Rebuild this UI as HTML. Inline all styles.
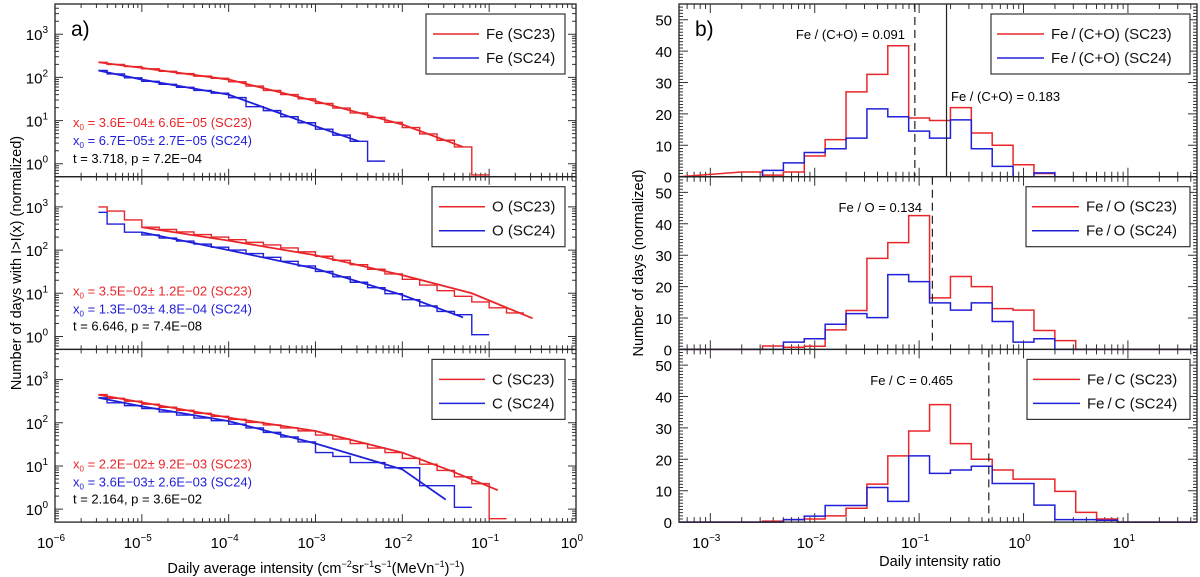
<!DOCTYPE html>
<html><head><meta charset="utf-8"><style>
html,body{margin:0;padding:0;background:#fff}
svg{display:block;font-family:"Liberation Sans",sans-serif}
</style></head><body>
<svg id="fig" width="1200" height="577" viewBox="0 0 1200 577" xmlns="http://www.w3.org/2000/svg">
<g id="left"></g>
<g id="right"></g>
</svg>
<script>
// ===== Panel a data (log10 x bin edges start at -5.6, step 0.2, clipped at -5.5) =====
const aBinStart = -5.6, aBinStep = 0.2, aClip = -5.5;
const feRed  = [224,200,178,158,138,123,107,95,79,63,50,40,32,25,19.5,15,11.8,9.1,6.9,4.9,3.5,2.45,0.55];
const feBlue = [145,120,98,81,69,59,50,43,34,21,17,12.3,8.9,6.3,4.6,3.3,1.15];
const oRed   = [1000,800,500,340,300,263,229,200,174,151,132,112,91,72,58,46,36,28,21,15.5,11.5,8.5,6.3,4.6,3.5];
const oBlue  = [750,400,260,224,190,162,138,117,100,83,68,55,43,32,24,18,13.5,9.8,7.1,5.1,3.8,3.2,1.1];
const cRed   = [450,370,316,270,229,195,166,141,120,102,89,76,65,52,42,33,26,20.4,15,11,7.9,5.6,3.9,0.6];
const cBlue  = [380,290,250,214,178,151,129,112,93,76,60,47,36,20.4,16.6,12,12,9.1,9.1,3.5,3.5,1.1];
// fit curves: [log10 x, log10 y]
const feRedFitX=[-5.5,-5,-4,-3,-2,-1.3], feRedFitY=[2.35,2.22,1.95,1.45,0.91,0.39];
const feBlueFitX=[-5.5,-5,-4,-3,-2.5], feBlueFitY=[2.16,1.95,1.6,0.87,0.52];
const oRedFitX=[-5,-4,-3,-2,-1.2,-0.5], oRedFitY=[2.53,2.22,1.88,1.42,1.0,0.42];
const oBlueFitX=[-5,-4,-3,-2,-1.3], oBlueFitY=[2.41,2.0,1.57,0.96,0.44];
const cRedFitX=[-5.5,-4,-3,-2,-1.43,-0.9], cRedFitY=[2.65,2.12,1.81,1.31,0.88,0.44];
const cBlueFitX=[-5.5,-5,-4,-3,-2,-1.5], cBlueFitY=[2.58,2.38,2.04,1.52,0.92,0.22];
const aLegends=[["Fe (SC23)","Fe (SC24)"],["O (SC23)","O (SC24)"],["C (SC23)","C (SC24)"]];
const aNotes=[["3.6E\u221204\u00b1 6.6E\u221205 (SC23)","6.7E\u221205\u00b1 2.7E\u221205 (SC24)","t = 3.718, p = 7.2E\u221204"],
 ["3.5E\u221202\u00b1 1.2E\u221202 (SC23)","1.3E\u221203\u00b1 4.8E\u221204 (SC24)","t = 6.646, p = 7.4E\u221208"],
 ["2.2E\u221202\u00b1 9.2E\u221203 (SC23)","3.6E\u221203\u00b1 2.6E\u221203 (SC24)","t = 2.164, p = 3.6E\u221202"]];
const aXTicks=[-6,-5,-4,-3,-2,-1,0];
const aYTicks=[0,1,2,3];

// ===== Panel b data (log10 ratio bin edges start at -2.7, step 0.2) =====
const bBinStart=-2.7, bBinStep=0.2;
const coRed =[1.5,0.5,1.5,6.6,11.8,27,32.6,41.7,18.7,17.9,22,13.9,10,3.8,1];
const coBlue=[0,2,4.4,7.7,8.9,12.3,21.6,19.1,14.5,12.3,18.1,8.9,3.3,0,1.2];
const foRed =[0,1.1,0.7,1,6.2,12.4,29,34,42.6,16.4,23.2,20,13,12.5,6,2.8];
const foBlue=[0,0,2.3,3.4,8,11.4,10.1,23.8,21.6,14.8,12.5,14.8,8.9,2.3,3.4];
const fcRed =[0,0.3,0.8,1,2,4.4,12.1,21.1,29,37.4,25,20,16.6,13.7,13.7,9.8,3.1,1];
const fcBlue=[0,0,0.8,1.9,5.3,5.3,11,6.6,21.1,15.5,16.6,17.8,12.3,12.3,5.4,0.8,0.8,0.6];
const bLegends=[["Fe\u2009/\u2009(C+O) (SC23)","Fe\u2009/\u2009(C+O) (SC24)"],["Fe\u2009/\u2009O (SC23)","Fe\u2009/\u2009O (SC24)"],["Fe\u2009/\u2009C (SC23)","Fe\u2009/\u2009C (SC24)"]];
const bXTicks=[-3,-2,-1,0,1];
const bYTicks=[0,10,20,30,40,50];

const NS="http://www.w3.org/2000/svg";
const RED="#e8262a", BLUE="#2020d8";
function mk(tag,parent,attrs){const e=document.createElementNS(NS,tag);for(const k in attrs)e.setAttribute(k,attrs[k]);parent.appendChild(e);return e;}
const L=document.getElementById('left'), R=document.getElementById('right');
const tops=[4,176.7,349.4], PH=172.7;

// scales
const aX=lx=>55+(lx+6)*86.83;
const aY=(p,ly)=>tops[p]+(3.7-ly)/4.0*PH;
const bX=lx=>679+(lx+3.3)*104.4;
const bY=(p,v)=>tops[p]+PH-v*PH/55;

// ---------- panel a ----------
const aSeries=[[feRed,feBlue],[oRed,oBlue],[cRed,cBlue]];
const aFits=[[[feRedFitX,feRedFitY],[feBlueFitX,feBlueFitY]],[[oRedFitX,oRedFitY],[oBlueFitX,oBlueFitY]],[[cRedFitX,cRedFitY],[cBlueFitX,cBlueFitY]]];
const aNames=['fe','o','c'];
for(let p=0;p<3;p++){
  const g=mk('g',L,{});
  
  
  const t=tops[p], b=t+PH;
  // ticks
  let tk='';
  for(let d=-6;d<0;d++)for(let m=1;m<10;m++){const x=aX(d+Math.log10(m));const len=m==1?8:4;
    if(x>55.5){tk+=`M${x},${b}v${-len}M${x},${t}v${len}`;}}
  for(let d=-1;d<4;d++)for(let m=1;m<10;m++){const ly=d+Math.log10(m);if(ly<-0.3||ly>3.7)continue;const y=aY(p,ly);const len=m==1?8:4;
    tk+=`M55,${y}h${len}M576,${y}h${-len}`;}
  const tks=mk('path',g,{d:tk,stroke:'#333',"stroke-width":1,fill:'none'});
  
  
  // y tick labels
  aYTicks.forEach(v=>{const tx=mk('text',g,{x:48,y:aY(p,v)+6,"text-anchor":"end","font-size":15});
    
    
    tx.appendChild(document.createTextNode('10'));const s=mk('tspan',tx,{dy:-7,"font-size":10});s.textContent=v;});
  // series
  [0,1].forEach(si=>{
    const vals=aSeries[p][si];let d='';
    vals.forEach((v,i)=>{let x0=aBinStart+i*aBinStep;if(x0<aClip)x0=aClip;const x1=aBinStart+(i+1)*aBinStep;const y=aY(p,Math.log10(v));
      d+=(i==0?'M':'L')+aX(x0)+','+y+'L'+aX(x1)+','+y;});
    const st=mk('path',g,{d:d,stroke:si?BLUE:RED,"stroke-width":1.4,fill:'none'});
    
    
    const [fx,fy]=aFits[p][si];
    const fit=mk('path',g,{d:fx.map((x,i)=>(i?'L':'M')+aX(x)+','+aY(p,fy[i])).join(''),stroke:si?BLUE:RED,"stroke-width":1.8,fill:'none'});
    
    
  });
  // frame
  const fr=mk('rect',g,{x:55,y:t,width:521,height:PH,fill:'none',stroke:'#222',"stroke-width":1.3});
  
  
  // legend
  const lg=mk('g',g,{});
  
  
  const lx0=p==0?426:432;
  mk('rect',lg,{x:lx0,y:t+10,width:565-lx0,height:60,fill:'#fff',stroke:'#333',"stroke-width":1.2});
  [0,1].forEach(si=>{const ry=t+30+si*24;
    mk('line',lg,{x1:lx0+7,x2:lx0+53,y1:ry,y2:ry,stroke:si?BLUE:RED,"stroke-width":1.5});
    const tx=mk('text',lg,{x:lx0+60,y:ry+5,"font-size":15,fill:'#111'});tx.textContent=aLegends[p][si];
    
    });
  // annotations
  const ny=[[118,136,154],[114,132,149],[114,132,149]][p];
  [0,1,2].forEach(k=>{const tx=mk('text',g,{x:73,y:t+ny[k]+5,"font-size":13,fill:k==0?RED:(k==1?BLUE:'#000')});
    
    
    if(k<2){tx.appendChild(document.createTextNode('x'));const s=mk('tspan',tx,{dy:3,"font-size":8});s.textContent='0';
      const r=mk('tspan',tx,{dy:-3});r.textContent=' = '+aNotes[p][k];}
    else tx.textContent=aNotes[p][k];});
}
// a x tick labels
aXTicks.forEach(v=>{const tx=mk('text',L,{x:aX(v)-4,y:548,"text-anchor":"middle","font-size":15});
  
  
  tx.appendChild(document.createTextNode('10'));const s=mk('tspan',tx,{dy:-7,"font-size":10});s.textContent=v<0?'\u2212'+(-v):v;});
{const tx=mk('text',L,{x:71,y:36,"font-size":21});tx.textContent='a)';}
{const tx=mk('text',L,{x:316,y:573,"text-anchor":"middle","font-size":14.5});
 
 tx.innerHTML='Daily average intensity (cm<tspan dy="-6" font-size="9">\u22122</tspan><tspan dy="6">sr</tspan><tspan dy="-6" font-size="9">\u22121</tspan><tspan dy="6">s</tspan><tspan dy="-6" font-size="9">\u22121</tspan><tspan dy="6">(MeVn</tspan><tspan dy="-6" font-size="9">\u22121</tspan><tspan dy="6">)</tspan><tspan dy="-6" font-size="9">\u22121</tspan><tspan dy="6">)</tspan>';}
{const tx=mk('text',L,{x:0,y:0,"text-anchor":"middle","font-size":14.5,transform:'translate(21,263) rotate(-90)'});
 tx.textContent='Number of days with I>I(x) (normalized)';}

// ---------- panel b ----------
const bSeries=[[coRed,coBlue],[foRed,foBlue],[fcRed,fcBlue]];
const bNames=['fe-co','fe-o','fe-c'];
const bLegX=[991,1026,1027];
for(let p=0;p<3;p++){
  const g=mk('g',R,{});
  
  
  const t=tops[p], b=t+PH;
  let tk='';
  for(let d=-4;d<2;d++)for(let m=1;m<10;m++){const lx=d+Math.log10(m);if(lx<-3.3||lx>1.66)continue;const x=bX(lx);const len=m==1?9:5;
    tk+=`M${x},${b}v${-len}M${x},${t}v${len}`;}
  for(let v=0;v<=55;v++){const y=bY(p,v);const len=v%10==0?9:4;tk+=`M679,${y}h${len}M1197,${y}h${-len}`;}
  const tks=mk('path',g,{d:tk,stroke:'#333',"stroke-width":1,fill:'none'});
  
  
  bYTicks.forEach(v=>{const tx=mk('text',g,{x:672,y:bY(p,v)+6,"text-anchor":"end","font-size":15});tx.textContent=v;
    
    });
  [0,1].forEach(si=>{
    const vals=bSeries[p][si];let d='M679,'+bY(p,0);
    vals.forEach((v,i)=>{const x0=bX(bBinStart+i*bBinStep),x1=bX(bBinStart+(i+1)*bBinStep);const y=bY(p,v);
      d+='L'+x0+','+y+'L'+x1+','+y;});
    const endX=bX(bBinStart+vals.length*bBinStep);
    d+='L'+endX+','+bY(p,0)+'L1197,'+bY(p,0);
    const h=mk('path',g,{d:d,stroke:si?BLUE:RED,"stroke-width":1.5,fill:'none'});
    
    
  });
  const fr=mk('rect',g,{x:679,y:t,width:518,height:PH,fill:'none',stroke:'#222',"stroke-width":1.3});
  
  
  const lg=mk('g',g,{});
  
  
  const lx0=bLegX[p];
  mk('rect',lg,{x:lx0,y:t+10,width:1190-lx0,height:60,fill:'#fff',stroke:'#333',"stroke-width":1.2});
  [0,1].forEach(si=>{const ry=t+30+si*24;
    mk('line',lg,{x1:lx0+6,x2:lx0+53,y1:ry,y2:ry,stroke:si?BLUE:RED,"stroke-width":1.5});
    const tx=mk('text',lg,{x:lx0+60,y:ry+5,"font-size":15,fill:'#111'});tx.textContent=bLegends[p][si];
    
    });
}
// reference lines
const refVals=[0.091,0.183,0.134,0.465];
const refPanel=[0,0,1,2];
const refDash=[true,false,true,true];
const refLabel=['Fe / (C+O) = 0.091','Fe / (C+O) = 0.183','Fe / O = 0.134','Fe / C = 0.465'];
const refLabelPos=[[905,'end',34],[951,'start',96],[922,'end',207],[953,'end',380]];
refVals.forEach((v,i)=>{const p=refPanel[i];const x=bX(Math.log10(v));
  const ln=mk('line',R,{x1:x,x2:x,y1:tops[p],y2:tops[p]+PH,stroke:'#222',"stroke-width":1.2,"stroke-dasharray":refDash[i]?'8,5':'none'});
  
  
  const [lx,anc,ly]=refLabelPos[i];
  const tx=mk('text',R,{x:lx,y:ly+5,"text-anchor":anc,"font-size":13});tx.textContent=refLabel[i];
  
  });
bXTicks.forEach(v=>{const tx=mk('text',R,{x:bX(v)-4,y:548,"text-anchor":"middle","font-size":15});
  
  
  tx.appendChild(document.createTextNode('10'));const s=mk('tspan',tx,{dy:-7,"font-size":10});s.textContent=v<0?'\u2212'+(-v):v;});
{const tx=mk('text',R,{x:695,y:36,"font-size":21});tx.textContent='b)';}
{const tx=mk('text',R,{x:940,y:566,"text-anchor":"middle","font-size":14.5});tx.textContent='Daily intensity ratio';
 }
{const tx=mk('text',R,{x:0,y:0,"text-anchor":"middle","font-size":14.5,transform:'translate(643,263) rotate(-90)'});
 tx.textContent='Number of days (normalized)';}
</script>
</body></html>
